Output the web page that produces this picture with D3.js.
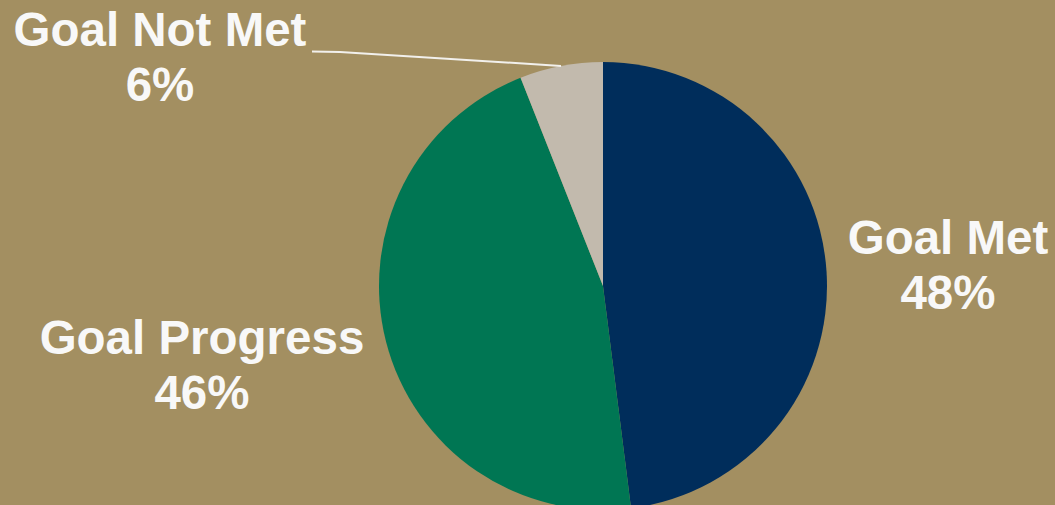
<!DOCTYPE html>
<html>
<head>
<meta charset="utf-8">
<script src="https://cdn.jsdelivr.net/npm/d3@7"></script>
<style>
  html, body { margin: 0; padding: 0; background: #A38F61; }
  svg { display: block; }
</style>
</head>
<body>
<div id="chart"></div>
<script>
// Chart data
var categories = ["Goal Met", "Goal Progress", "Goal Not Met"];
var shares = [48, 46, 6];

// Colours per slice
var colors = ["#002D5B", "#007653", "#C2BAAD"];

// SVG params
var svgWdt = 1055;
var svgHgt = 505;
var cx = 603;
var cy = 286;
var radius = 224;

// Label anchors (centre x, baseline of first line)
var lblPos = [
    { x: 948, y: 254 },
    { x: 202, y: 354 },
    { x: 160, y: 46 }
];

var svg = d3.select("#chart").append("svg")
    .attr("width", svgWdt)
    .attr("height", svgHgt);

svg.append("rect")
    .attr("width", svgWdt)
    .attr("height", svgHgt)
    .attr("fill", "#A38F61");

var data = categories.map((c, i) => ({ name: c, value: shares[i] }));

var pie = d3.pie().sort(null).value(d => d.value);
var arc = d3.arc().innerRadius(0).outerRadius(radius);

var pieGrp = svg.append("g")
    .attr("transform", `translate(${cx}, ${cy})`);

var arcs = pie(data);

pieGrp.selectAll("path").data(arcs)
    .enter()
    .append("path")
        .attr("d", arc)
        .attr("fill", (d, i) => colors[i]);

// Leader line for the small slice, ends at the slice's outer mid point
var small = arcs[2];
var mid = (small.startAngle + small.endAngle) / 2;
var tip = [Math.sin(mid) * radius, -Math.cos(mid) * radius];
svg.append("polyline")
    .attr("points", [[312, 51.5], [340, 52], [cx + tip[0], cy + tip[1]]].map(p => p.join(",")).join(" "))
    .attr("fill", "none")
    .attr("stroke", "#F2F0EC")
    .attr("stroke-width", 2);

// Labels
var lblGrp = svg.selectAll(".lbl").data(data)
    .enter()
    .append("text")
        .attr("class", "lbl")
        .attr("text-anchor", "middle")
        .attr("font-family", "'Liberation Sans', Arial, sans-serif")
        .attr("font-weight", "bold")
        .attr("font-size", "47.5px")
        .attr("fill", "#F8F8F8");

lblGrp.append("tspan")
    .attr("x", (d, i) => lblPos[i].x)
    .attr("y", (d, i) => lblPos[i].y)
    .text(d => d.name);

lblGrp.append("tspan")
    .attr("x", (d, i) => lblPos[i].x)
    .attr("y", (d, i) => lblPos[i].y + 55)
    .text(d => `${d.value}%`);
</script>
</body>
</html>
